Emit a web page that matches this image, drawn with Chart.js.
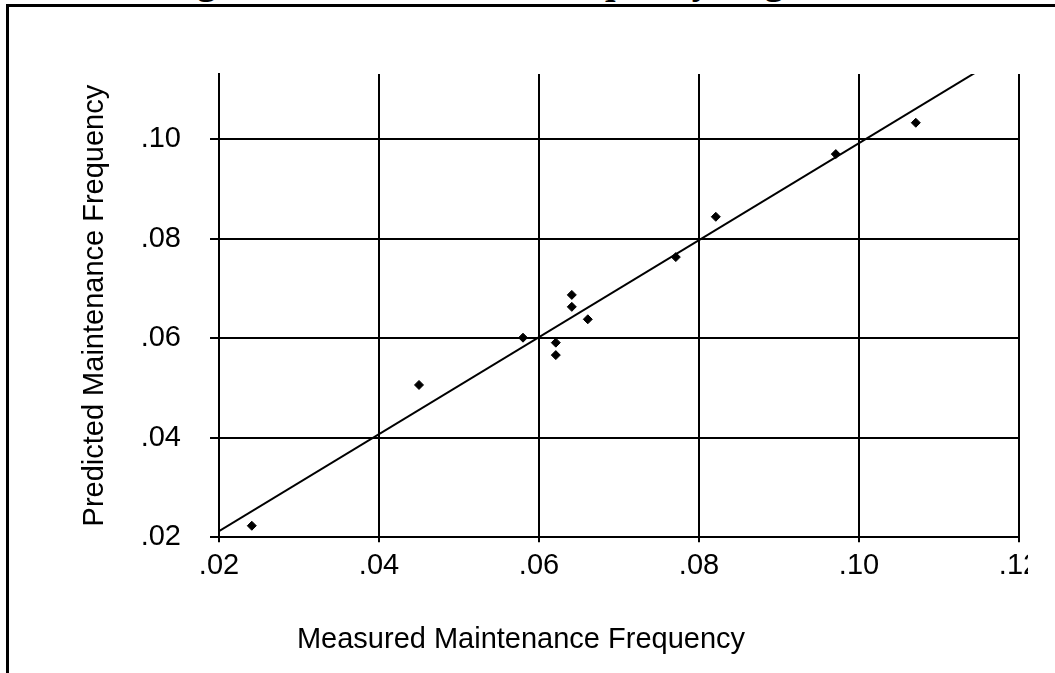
<!DOCTYPE html>
<html>
<head>
<meta charset="utf-8">
<script src="https://cdn.jsdelivr.net/npm/chart.js@4.4.0/dist/chart.umd.min.js"></script>
<style>
  body { margin: 0; width: 1055px; height: 673px; overflow: hidden; position: relative; background: #fff; }
  #fig-title { position: absolute; left: 0; width: 1060px; top: -38px; text-align: center; font: bold 38px/38px "Liberation Serif", serif; white-space: nowrap; color: #000; }
  #clip { position: absolute; left: 0; top: 0; width: 1028px; height: 673px; overflow: hidden; }
  #frame { position: absolute; left: 6px; top: 4px; width: 1060px; height: 700px; border-top: 3px solid #000; border-left: 3px solid #000; }
</style>
</head>
<body>
<div id="fig-title">Figure 6. Maintenance Frequency Regression</div>
<div id="clip"><canvas id="freqChart" width="1055" height="673"></canvas></div>
<div id="frame"></div>
<script>
// valores
const measured  = [0.0241, 0.0450, 0.0580, 0.0621, 0.0621, 0.0641, 0.0641, 0.0661, 0.0771, 0.0821, 0.0971, 0.1071];
const predicted = [0.0223, 0.0506, 0.0601, 0.0591, 0.0566, 0.0687, 0.0663, 0.0638, 0.0763, 0.0844, 0.0970, 0.1033];
// reta ajustada
const fitX = [0.02, 0.12];
const fitY = [0.0212, 0.1187];
const xTicks = [0.02, 0.04, 0.06, 0.08, 0.10, 0.12];
const yTicks = [0.02, 0.04, 0.06, 0.08, 0.10];

const fmt = v => v.toFixed(2).replace(/^0/, '');
const axisFont = { family: 'Liberation Sans', size: 29 };

document.addEventListener('DOMContentLoaded', function () {
    const ctx = document.getElementById('freqChart').getContext('2d');
    new Chart(ctx, {
        type: 'scatter',
        data: {
            datasets: [{
                label: 'Measured vs Predicted',
                data: measured.map((x, i) => ({ x: x, y: predicted[i] })),
                pointStyle: 'rectRot',
                pointRadius: 4.5,
                backgroundColor: '#000',
                borderColor: '#000',
                borderWidth: 1
            }, {
                type: 'line',
                label: 'Fit',
                data: fitX.map((x, i) => ({ x: x, y: fitY[i] })),
                borderColor: '#000',
                borderWidth: 2,
                pointRadius: 0,
                fill: false
            }]
        },
        options: {
            responsive: false,
            animation: false,
            layout: { padding: { left: 23, right: 36, top: 74, bottom: 0 } },
            plugins: {
                legend: { display: false },
                tooltip: { enabled: false },
                title: {
                    display: true,
                    position: 'bottom',
                    text: 'Measured Maintenance Frequency',
                    color: '#000',
                    font: { family: 'Liberation Sans', size: 29, weight: 'normal' },
                    padding: { top: 8, bottom: 16 }
                }
            },
            scales: {
                x: {
                    type: 'linear',
                    min: xTicks[0],
                    max: xTicks[xTicks.length - 1],
                    afterFit: s => { s.height = 77; },
                    afterBuildTicks: s => { s.ticks = xTicks.map(v => ({ value: v })); },
                    ticks: { callback: fmt, color: '#000', font: axisFont, padding: 6, maxRotation: 0 },
                    grid: { color: '#000', lineWidth: 2, tickLength: 5 },
                    border: { color: '#000', width: 2 }
                },
                y: {
                    type: 'linear',
                    min: yTicks[0],
                    max: 0.1131,
                    afterFit: s => { s.width = 196; },
                    afterBuildTicks: s => { s.ticks = yTicks.map(v => ({ value: v })); },
                    ticks: { callback: fmt, color: '#000', font: axisFont, padding: 29 },
                    grid: { color: '#000', lineWidth: 2, tickLength: 9 },
                    border: { color: '#000', width: 2 },
                    title: {
                        display: true,
                        text: 'Predicted Maintenance Frequency',
                        color: '#000',
                        font: { family: 'Liberation Sans', size: 29 },
                        padding: { top: 55, bottom: 0 }
                    }
                }
            }
        }
    });
});
</script>
</body>
</html>
